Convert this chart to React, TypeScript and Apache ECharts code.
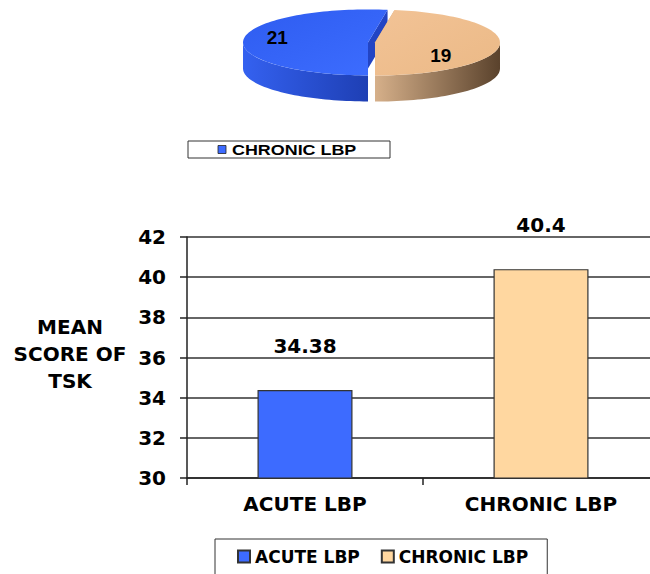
import React, { useEffect, useRef } from 'react';
import * as echarts from 'echarts';

// ---------- data ----------
const categories = ['ACUTE LBP', 'CHRONIC LBP'];
const meanScores = [34.38, 40.4];
const pieCounts = [21, 19];
const pieLegendLabel = 'CHRONIC LBP';
const yAxisTitle = ['MEAN', 'SCORE OF', 'TSK'];
const yMin = 30;
const yMax = 42;
const yStep = 2;

// ---------- styles ----------
const BLUE = '#3d6bff';
const TAN = '#ffd7a0';
const FONT = "'DejaVu Sans', Verdana, sans-serif";
const PIE = { cx: 371.5, cy: 42.5, rx: 125, ry: 33, depth: 26, explode: 3.5, start: 90 };
const sliceStyle = [
  {
    top: ['#2e5cf0', '#3d6dff'],
    side: ['#3461f0', '#1e3fb4'],
    cut: '#2244c4',
    label: { angle: 191, r: 0.74 },
  },
  {
    top: ['#f2c396', '#ebb986'],
    side: ['#d6b08a', '#5a422c'],
    cut: '#cfa47a',
    label: { angle: 36, r: 0.65 },
  },
];

const pieTotal = pieCounts.reduce((a, b) => a + b, 0);
const pieCum = pieCounts.map((_, i) => pieCounts.slice(0, i).reduce((a, b) => a + b, 0));

function renderSlice(params: any, api: any) {
  const i = params.dataIndex;
  const v = api.value(0);
  const st = sliceStyle[i];
  const a1 = PIE.start + (360 * pieCum[i]) / pieTotal;
  const a2 = a1 + (360 * v) / pieTotal;
  const mid = (((a1 + a2) / 2) * Math.PI) / 180;
  const cx = PIE.cx + PIE.explode * Math.cos(mid);
  const cy = PIE.cy + PIE.explode * Math.sin(mid) * (PIE.ry / PIE.rx);
  const H = PIE.depth;
  const P = (deg: number, dy = 0) => [
    cx + PIE.rx * Math.cos((deg * Math.PI) / 180),
    cy + PIE.ry * Math.sin((deg * Math.PI) / 180) + dy,
  ];
  const arc = (from: number, to: number, dy = 0) => {
    const n = Math.max(2, Math.ceil(Math.abs(to - from) / 2));
    const pts: number[][] = [];
    for (let k = 0; k <= n; k++) pts.push(P(from + ((to - from) * k) / n, dy));
    return pts;
  };
  const children: any[] = [];
  for (const a of [a1, a2]) {
    children.push({
      type: 'polygon',
      shape: { points: [[cx, cy], P(a), P(a, H), [cx, cy + H]] },
      style: { fill: st.cut },
    });
  }
  for (const k of [-360, 0, 360]) {
    const lo = Math.max(a1, k);
    const hi = Math.min(a2, k + 180);
    if (hi > lo) {
      children.push({
        type: 'polygon',
        shape: { points: [...arc(lo, hi), ...arc(hi, lo, H)] },
        style: {
          fill: new echarts.graphic.LinearGradient(0, 0, 1, 0, [
            { offset: 0, color: st.side[0] },
            { offset: 1, color: st.side[1] },
          ]),
        },
      });
    }
  }
  children.push({
    type: 'polygon',
    shape: { points: [[cx, cy], ...arc(a1, a2)] },
    style: {
      fill: new echarts.graphic.LinearGradient(0, 0, 1, 1, [
        { offset: 0, color: st.top[0] },
        { offset: 1, color: st.top[1] },
      ]),
    },
  });
  const la = (st.label.angle * Math.PI) / 180;
  children.push({
    type: 'text',
    x: cx + PIE.rx * st.label.r * Math.cos(la),
    y: cy + PIE.ry * st.label.r * Math.sin(la),
    style: {
      text: String(v),
      fill: '#000',
      font: "bold 19px 'Liberation Sans', Arial, sans-serif",
      align: 'center',
      verticalAlign: 'middle',
    },
  });
  return { type: 'group', children };
}

export default function App() {
  const ref = useRef<HTMLDivElement>(null);
  useEffect(() => {
    if (!ref.current) return;
    const chart = echarts.init(ref.current, null, { renderer: 'svg' });
    const barColors = [BLUE, TAN];
    chart.setOption({
      animation: false,
      backgroundColor: '#fff',
      textStyle: { fontFamily: FONT },
      grid: {
        left: 187,
        right: -9,
        top: 237,
        bottom: 96,
        containLabel: false,
        outerBoundsMode: 'none',
      },
      legend: {
        data: categories,
        left: 215,
        top: 539,
        icon: 'rect',
        itemWidth: 12,
        itemHeight: 12,
        itemGap: 21,
        padding: [9, 19, 14, 22],
        borderColor: '#333',
        borderWidth: 1,
        backgroundColor: '#fff',
        textStyle: { fontFamily: FONT, fontWeight: 'bold', fontSize: 17, color: '#000' },
      },
      xAxis: {
        type: 'category',
        data: categories,
        axisLine: { show: true, lineStyle: { color: '#222', width: 1.5 } },
        axisTick: { show: true, alignWithLabel: false, length: 7, lineStyle: { color: '#222', width: 1.5 } },
        axisLabel: { margin: 16, fontFamily: FONT, fontWeight: 'bold', fontSize: 20, color: '#000' },
      },
      yAxis: {
        type: 'value',
        min: yMin,
        max: yMax,
        interval: yStep,
        axisLine: { show: true, lineStyle: { color: '#222', width: 1.5 } },
        axisTick: { show: true, length: 7, lineStyle: { color: '#222', width: 1.5 } },
        axisLabel: { margin: 21, fontFamily: FONT, fontWeight: 'bold', fontSize: 20, color: '#000' },
        splitLine: { show: true, lineStyle: { color: '#666', width: 2 } },
      },
      series: [
        ...categories.map((name, ci) => ({
          name,
          type: 'bar',
          barWidth: 95,
          barGap: '-100%',
          data: meanScores.map((v, j) => (j === ci ? v : null)),
          itemStyle: { color: barColors[ci], borderColor: '#333', borderWidth: 1.2 },
          label: {
            show: true,
            position: 'top',
            distance: 34,
            formatter: (p: any) => String(p.value),
            fontFamily: FONT,
            fontWeight: 'bold',
            fontSize: 20,
            color: '#000',
          },
        })),
        {
          type: 'custom',
          name: 'pie3d',
          coordinateSystem: 'none',
          renderItem: renderSlice,
          data: pieCounts,
          silent: true,
        },
      ],
      graphic: [
        {
          type: 'text',
          x: 70,
          y: 354,
          style: {
            text: yAxisTitle.join('\n'),
            font: `bold 20px ${FONT}`,
            fill: '#000',
            align: 'center',
            verticalAlign: 'middle',
            lineHeight: 27,
          },
        },
        {
          type: 'rect',
          shape: { x: 188, y: 141, width: 202, height: 17 },
          style: { fill: '#fff', stroke: '#333', lineWidth: 1 },
        },
        {
          type: 'rect',
          shape: { x: 218, y: 145.5, width: 8, height: 8 },
          style: { fill: BLUE, stroke: '#222', lineWidth: 0.8 },
        },
        {
          type: 'text',
          x: 232,
          y: 150,
          scaleX: 1.28,
          style: {
            text: pieLegendLabel,
            font: "bold 14px 'Liberation Sans', Arial, sans-serif",
            fill: '#000',
            verticalAlign: 'middle',
          },
        },
      ],
    });
    return () => chart.dispose();
  }, []);
  return <div ref={ref} style={{ position: 'fixed', left: 0, top: 0, width: 650, height: 574 }} />;
}
